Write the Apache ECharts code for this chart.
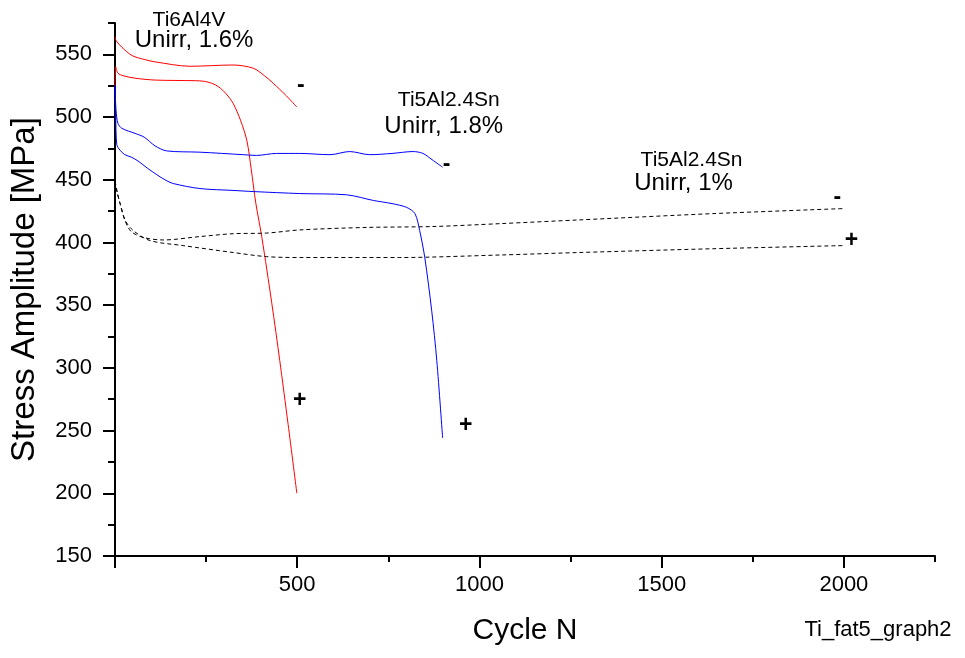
<!DOCTYPE html>
<html>
<head>
<meta charset="utf-8">
<script src="https://cdn.jsdelivr.net/npm/echarts@6/dist/echarts.min.js"></script>
<style>
  html, body { margin: 0; padding: 0; background: #fff; }
  #chart { width: 965px; height: 658px; }
</style>
</head>
<body>
<div id="chart"></div>
<script>
// Ti6Al4V, Unirr 1.6%  ("-" and "+" specimens)
const ti64MinusN = [0, 3, 19, 47, 82, 110, 206, 324, 379, 410, 434, 470, 499];
const ti64MinusS = [564, 561, 555.6, 549, 545.8, 544, 540.5, 541.5, 539, 533, 527, 517, 508];
const ti64PlusN = [0, 2, 8, 22, 55, 110, 220, 245, 265, 285, 305, 324, 345, 362, 374, 386, 403, 430, 452, 475, 499];
const ti64PlusS = [525, 540, 535, 533, 531, 529.5, 529, 528.5, 527, 524, 518.5, 511, 497, 481, 458, 432, 404, 352, 306, 255, 200];

// Ti5Al2.4Sn, Unirr 1.8%
const sn18MinusN = [0, 3, 8, 19, 55, 80, 110, 142, 233, 352, 388, 443, 507, 590, 644, 699, 760, 818, 845, 870, 899];
const sn18MinusS = [525, 505, 495, 491, 487, 484, 477, 473, 472, 470, 469.4, 471, 471, 470, 472.5, 470, 471, 472.5, 471, 466, 460];
const sn18PlusN = [0, 2, 5, 14, 27, 45, 63, 90, 115, 137, 160, 233, 324, 379, 507, 636, 709, 760, 800, 823, 836, 850, 869, 883, 899];
const sn18PlusS = [525, 500, 478, 473.5, 470, 468, 465, 459, 454, 450, 447, 443, 441.5, 440.6, 439, 438, 433.5, 431, 428, 423, 409.5, 388, 345.6, 305.7, 244];

// Ti5Al2.4Sn, Unirr 1%
const sn10MinusN = [0, 6, 14, 27, 36, 47, 77, 132, 233, 324, 416, 507, 691, 872, 1056, 1275, 1640, 1996];
const sn10MinusS = [449, 440, 431, 418, 412, 408, 404, 402, 404.7, 407, 407.5, 410, 412, 412.7, 415, 418, 423, 427];
const sn10PlusN = [0, 6, 14, 27, 50, 96, 187, 324, 416, 507, 781, 1056, 1275, 1640, 1996];
const sn10PlusS = [449, 440, 431, 418, 409.5, 401.5, 397.5, 392, 388.7, 388, 388, 390, 392, 395, 397.5];

// axis ticks
const xLabelValues = [500, 1000, 1500, 2000];
const xMajorTicks = [0, 500, 1000, 1500, 2000];
const yLabelValues = [150, 200, 250, 300, 350, 400, 450, 500, 550];

// text notes on the plot: [text, N, S]
const noteText = ['Ti6Al4V', 'Unirr, 1.6%', '-', 'Ti5Al2.4Sn', 'Unirr, 1.8%', '-', 'Ti5Al2.4Sn', 'Unirr, 1%', '-', '+', '+', '+'];
const noteN = [203, 217, 510, 916, 902, 910, 1582, 1560, 1982, 2021, 507, 962];
const noteS = [577.1, 561.2, 525, 513.3, 492.5, 462.2, 465.4, 447, 435.8, 401.5, 273.8, 253.8];

const zip = (xs, ys) => xs.map((x, i) => [x, ys[i]]);

const font = 'Liberation Sans, Arial, sans-serif';

const lineSeries = (data, color, dashed) => ({
  type: 'line',
  data: data,
  xAxisIndex: 0,
  yAxisIndex: 0,
  showSymbol: false,
  smooth: 0.3,
  silent: true,
  lineStyle: { color: color, width: 1, type: dashed ? [4, 3] : 'solid' }
});

const noteData = noteText.map((t, i) => {
  const sign = t === '+' || t === '-';
  const big = t.indexOf('Unirr') === 0;
  return {
    value: [noteN[i], noteS[i]],
    label: {
      show: true,
      position: 'inside',
      formatter: t,
      color: '#000',
      textBorderWidth: 0,
      fontFamily: font,
      fontSize: sign ? 23 : (big ? 24 : 21),
      fontWeight: sign ? 'bold' : 'normal'
    }
  };
});

const chart = echarts.init(document.getElementById('chart'));

const option = {
  animation: false,
  backgroundColor: '#fff',
  grid: { left: 115, right: 30, top: 23, bottom: 102, containLabel: false },
  xAxis: [
    {
      type: 'value', min: 0, max: 2250, interval: 250, position: 'bottom',
      axisLine: { show: true, onZero: false, lineStyle: { color: '#000', width: 2 } },
      axisTick: { show: true, length: 6, lineStyle: { color: '#000', width: 2 } },
      axisLabel: { show: false },
      splitLine: { show: false },
      name: 'Cycle N', nameLocation: 'middle', nameGap: 60,
      nameTextStyle: { fontSize: 30, color: '#000', fontFamily: font }
    },
    {
      type: 'value', min: 0, max: 2250, position: 'bottom',
      axisLine: { show: false, onZero: false },
      axisTick: { show: true, length: 12, customValues: xMajorTicks, lineStyle: { color: '#000', width: 2 } },
      axisLabel: {
        show: true, customValues: xLabelValues, margin: 18, fontSize: 22, color: '#000', fontFamily: font,
        formatter: v => String(v)
      },
      splitLine: { show: false }
    }
  ],
  yAxis: [
    {
      type: 'value', min: 150, max: 575, interval: 25, position: 'left',
      axisLine: { show: true, onZero: false, lineStyle: { color: '#000', width: 2 } },
      axisTick: { show: true, length: 7, lineStyle: { color: '#000', width: 2 } },
      axisLabel: { show: false },
      splitLine: { show: false },
      name: 'Stress Amplitude [MPa]', nameLocation: 'middle', nameGap: 74,
      nameTextStyle: { fontSize: 33, color: '#000', fontFamily: font }
    },
    {
      type: 'value', min: 150, max: 575, position: 'left',
      axisLine: { show: false, onZero: false },
      axisTick: { show: true, length: 12, customValues: yLabelValues, lineStyle: { color: '#000', width: 2 } },
      axisLabel: {
        show: true, customValues: yLabelValues, margin: 23, fontSize: 22, color: '#000', fontFamily: font,
        formatter: v => String(v)
      },
      splitLine: { show: false }
    }
  ],
  series: [
    lineSeries(zip(ti64MinusN, ti64MinusS), '#ff0000'),
    lineSeries(zip(ti64PlusN, ti64PlusS), '#ff0000'),
    lineSeries(zip(sn18MinusN, sn18MinusS), '#0000ff'),
    lineSeries(zip(sn18PlusN, sn18PlusS), '#0000ff'),
    lineSeries(zip(sn10MinusN, sn10MinusS), '#000000', true),
    lineSeries(zip(sn10PlusN, sn10PlusS), '#000000', true),
    {
      type: 'scatter',
      data: noteData,
      symbolSize: 0,
      clip: false,
      silent: true,
      itemStyle: { opacity: 1 },
      labelLayout: { hideOverlap: false }
    }
  ],
  graphic: [
    {
      type: 'text', x: 878, y: 630,
      style: {
        text: 'Ti_fat5_graph2', fill: '#000', font: '22px ' + font,
        align: 'center', verticalAlign: 'middle'
      }
    }
  ]
};

chart.setOption(option);
</script>
</body>
</html>
